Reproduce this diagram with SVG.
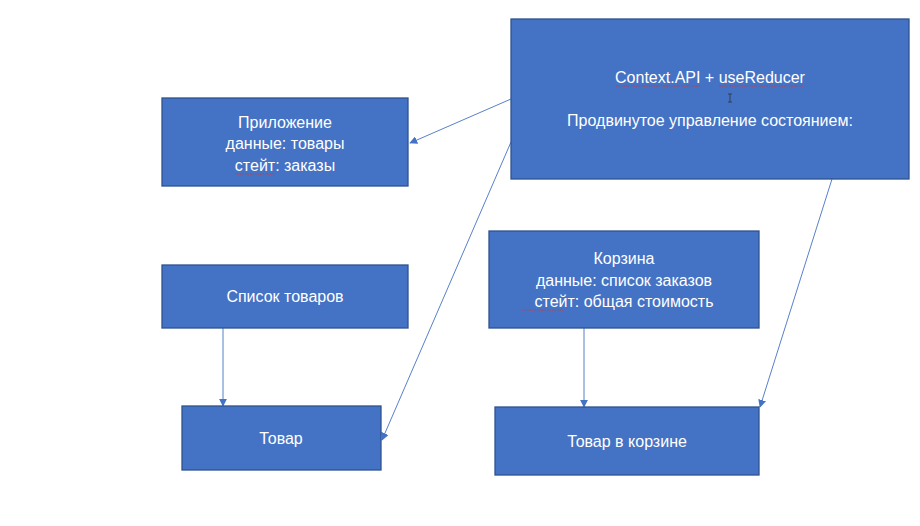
<svg xmlns="http://www.w3.org/2000/svg" width="920" height="526" viewBox="0 0 920 526">
<defs>
<style>
.box{fill:#4472C4;stroke:#2F528F;stroke-width:1.3}
.t{fill:#fff;font-family:"Liberation Sans","Noto Sans",sans-serif;font-size:16px;text-anchor:middle}
.c{stroke:#4472C4;stroke-width:0.9;fill:none;marker-end:url(#ah)}
.sq{stroke:#d23a3a;stroke-width:0.8;stroke-dasharray:1.5 1;fill:none}
</style>
<marker id="ah" viewBox="0 0 10 10" refX="9" refY="5" markerWidth="8" markerHeight="8" markerUnits="userSpaceOnUse" orient="auto">
<path d="M0,0 L10,5 L0,10 z" fill="#4472C4"/>
</marker>
</defs>
<rect width="920" height="526" fill="#fff"/>
<g id="connectors">
<line class="c" x1="511" y1="99" x2="410" y2="143"/>
<line class="c" x1="511" y1="142" x2="382" y2="440"/>
<line class="c" x1="832" y1="179" x2="760" y2="407"/>
<line class="c" x1="223" y1="328" x2="223" y2="406"/>
<line class="c" x1="584" y1="328" x2="584" y2="407"/>
</g>
<g id="context">
<rect class="box" x="511" y="19" width="398" height="160"/>
<text class="t" x="710" y="83">Context.API + useReducer</text>
<text class="t" x="710" y="126">Продвинутое управление состоянием:</text>
<path class="sq" d="M616,86 H701 M719,86 H804"/>
<path d="M730,94 V102 M728,94 H732 M728,102 H732" stroke="#333" stroke-width="0.8" fill="none"/>
</g>
<g id="app">
<rect class="box" x="162" y="98" width="246" height="88"/>
<text class="t" x="285" y="128">Приложение</text>
<text class="t" x="285" y="149">данные: товары</text>
<text class="t" x="285" y="171">стейт: заказы</text>
<path class="sq" d="M235,174 H276"/>
</g>
<g id="list">
<rect class="box" x="162" y="265" width="246" height="63"/>
<text class="t" x="285" y="302">Список товаров</text>
</g>
<g id="item">
<rect class="box" x="182" y="406" width="199" height="64"/>
<text class="t" x="281" y="444">Товар</text>
</g>
<g id="cart">
<rect class="box" x="489" y="231" width="270" height="97"/>
<text class="t" x="624" y="264">Корзина</text>
<text class="t" x="624" y="286">данные: список заказов</text>
<text class="t" x="624" y="307">стейт: общая стоимость</text>
<path class="sq" d="M522,310 H563"/>
</g>
<g id="cartitem">
<rect class="box" x="495" y="407" width="264" height="68"/>
<text class="t" x="627" y="447">Товар в корзине</text>
</g>
</svg>
